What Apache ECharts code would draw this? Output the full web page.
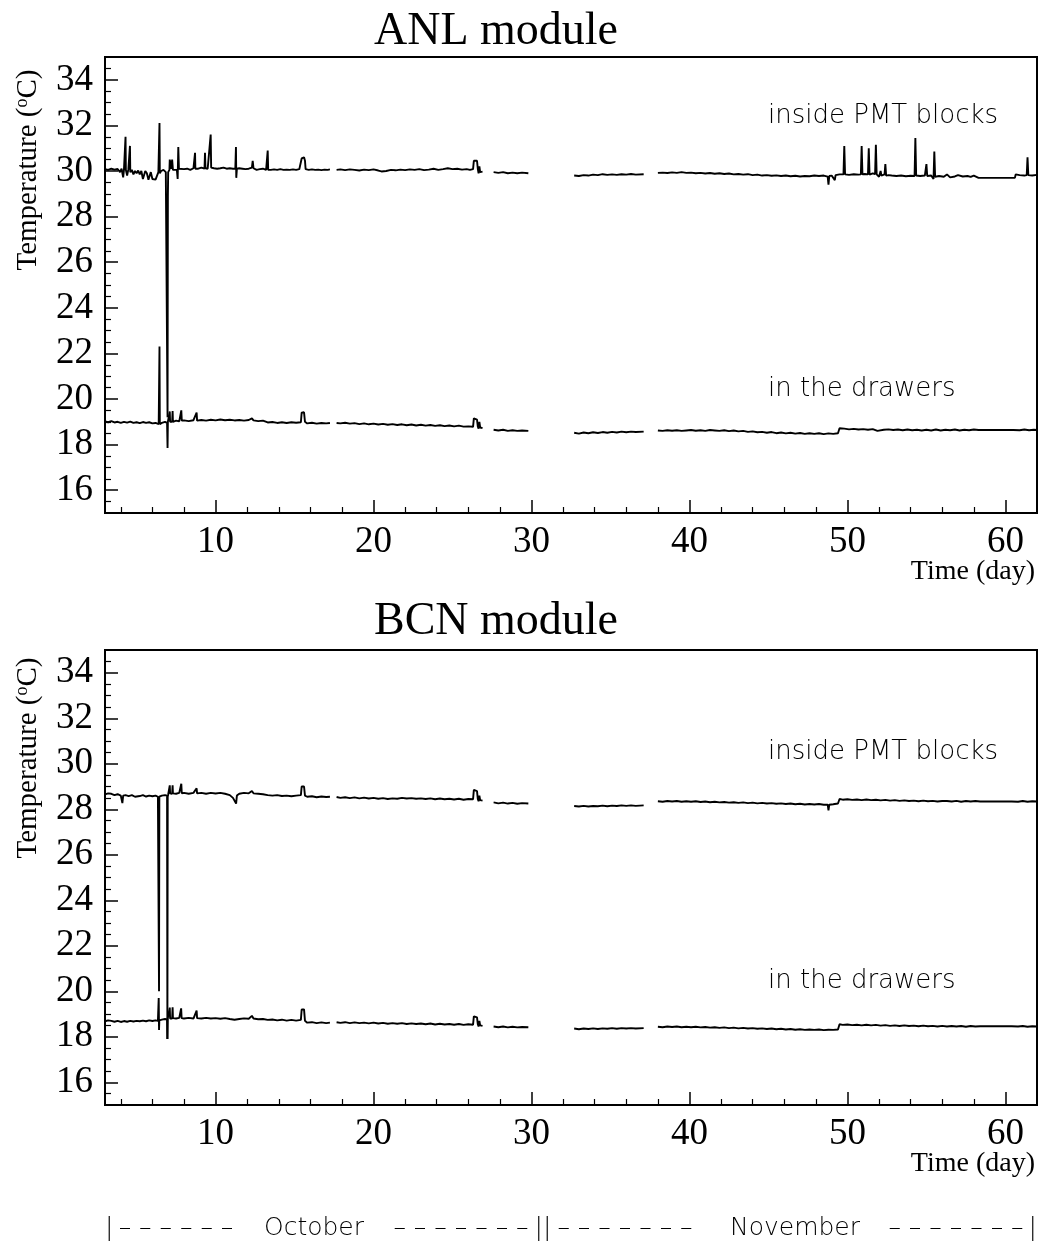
<!DOCTYPE html>
<html><head><meta charset="utf-8">
<script src="https://cdn.jsdelivr.net/npm/echarts@6/dist/echarts.min.js"></script>
<style>html,body{margin:0;padding:0;background:#fff}#c{width:1043px;height:1248px}</style>
</head><body><div id="c"></div>
<script>
const GAP = null;
const panelTitles = ['ANL module', 'BCN module'];
const seriesNames = ['inside PMT blocks', 'in the drawers'];
const xMajorTicks = [10, 20, 30, 40, 50, 60];
const xMinorTicks = [4, 6, 8, 12, 14, 16, 18, 22, 24, 26, 28, 32, 34, 36, 38, 42, 44, 46, 48, 52, 54, 56, 58];
const yMajorTicks = [16, 18, 20, 22, 24, 26, 28, 30, 32, 34];
const yMinorTicks = [15.5, 16.5, 17, 17.5, 18.5, 19, 19.5, 20.5, 21, 21.5, 22.5, 23, 23.5, 24.5, 25, 25.5, 26.5, 27, 27.5, 28.5, 29, 29.5, 30.5, 31, 31.5, 32.5, 33, 33.5, 34.5];

const anlPmt = [
[3.0,30.08],[3.2,30.05],[3.4,30.1],[3.6,30.06],[3.8,30.09],[3.95,29.95],[4.05,30.1],[4.15,29.72],[4.2,30.05],[4.28,30.1],[4.3,31.5],[4.32,30.05],[4.4,29.8],[4.48,30.08],[4.55,30.1],[4.58,31.1],[4.6,29.95],[4.7,30.05],[4.8,29.85],[4.9,30.0],[5.0,29.9],[5.1,30.02],[5.2,29.85],[5.3,30.0],[5.4,29.65],[5.5,29.7],[5.55,30.0],[5.65,29.9],[5.75,29.62],[5.85,29.7],[5.9,29.95],[6.0,29.65],[6.1,29.7],[6.2,29.62],[6.3,29.65],[6.38,29.95],[6.44,30.0],[6.45,32.1],[6.47,29.9],[6.55,30.0],[6.7,30.05],[6.85,29.95],[6.95,29.9],[6.96,19.2],[6.98,28.9],[7.0,29.95],[7.08,30.05],[7.1,30.5],[7.15,30.55],[7.2,30.1],[7.25,30.5],[7.3,30.05],[7.4,30.0],[7.55,30.05],[7.6,29.65],[7.64,31.05],[7.68,30.1],[7.8,30.15],[8.0,30.08],[8.2,30.1],[8.4,30.05],[8.6,30.12],[8.7,30.8],[8.72,30.1],[8.9,30.1],[9.1,30.15],[9.3,30.1],[9.33,30.8],[9.36,30.12],[9.5,30.1],[9.69,31.6],[9.72,30.15],[9.9,30.12],[10.1,30.1],[10.3,30.12],[10.5,30.15],[10.7,30.1],[10.9,30.12],[11.1,30.1],[11.25,30.1],[11.29,31.05],[11.31,29.7],[11.35,30.1],[11.5,30.12],[11.7,30.1],[11.9,30.08],[12.1,30.1],[12.3,30.15],[12.35,30.45],[12.4,30.12],[12.6,30.05],[12.8,30.08],[13.0,30.1],[13.2,30.05],[13.28,30.0],[13.3,30.9],[13.33,30.05],[13.5,30.05],[13.7,30.07],[13.9,30.05],[14.1,30.08],[14.3,30.05],[14.5,30.06],[14.7,30.05],[14.9,30.07],[15.1,30.05],[15.3,30.08],[15.4,30.1],[15.45,30.55],[15.5,30.62],[15.6,30.6],[15.66,30.45],[15.7,30.08],[15.9,30.05],[16.1,30.07],[16.3,30.05],[16.5,30.06],[16.7,30.04],[16.9,30.06],[17.1,30.05],[17.24,30.07],
[17.45,GAP],
[17.66,30.05],[17.9,30.07],[18.2,30.04],[18.5,30.07],[18.8,30.05],[19.1,30.02],[19.4,30.06],[19.7,30.04],[20.0,30.07],[20.3,30.02],[20.5,29.98],[20.8,30.0],[21.1,30.05],[21.4,30.03],[21.7,30.06],[22.0,30.04],[22.3,30.07],[22.6,30.05],[22.9,30.08],[23.2,30.04],[23.5,30.06],[23.8,30.1],[24.1,30.05],[24.4,30.08],[24.7,30.12],[25.0,30.08],[25.3,30.1],[25.6,30.06],[25.9,30.08],[26.1,30.05],[26.3,30.08],[26.35,30.45],[26.45,30.5],[26.55,30.45],[26.6,30.1],[26.65,29.9],[26.7,30.2],[26.75,29.95],[26.9,29.97],
[27.2,GAP],
[27.6,29.95],[27.9,29.92],[28.2,29.95],[28.5,29.9],[28.8,29.93],[29.1,29.9],[29.4,29.93],[29.8,29.9],
[31.0,GAP],
[32.7,29.8],[33.0,29.78],[33.3,29.82],[33.6,29.8],[33.9,29.84],[34.2,29.82],[34.5,29.86],[34.8,29.83],[35.1,29.85],[35.4,29.83],[35.7,29.86],[36.0,29.84],[36.3,29.87],[36.6,29.84],[37.1,29.86],
[37.5,GAP],
[38.0,29.92],[38.3,29.93],[38.6,29.91],[38.9,29.94],[39.2,29.92],[39.5,29.95],[39.8,29.92],[40.1,29.93],[40.4,29.9],[40.7,29.92],[41.0,29.89],[41.3,29.91],[41.6,29.88],[41.9,29.9],[42.2,29.87],[42.5,29.89],[42.8,29.85],[43.1,29.87],[43.4,29.84],[43.7,29.86],[44.0,29.82],[44.3,29.84],[44.6,29.8],[44.9,29.82],[45.2,29.79],[45.5,29.81],[45.8,29.78],[46.1,29.8],[46.4,29.77],[46.7,29.79],[47.0,29.76],[47.3,29.78],[47.6,29.77],[47.9,29.8],[48.2,29.78],[48.5,29.8],[48.75,29.75],[48.8,29.4],[48.85,29.78],[49.0,29.8],[49.2,29.6],[49.25,29.82],[49.5,29.85],[49.75,29.85],[49.8,31.1],[49.85,29.85],[50.1,29.83],[50.4,29.86],[50.7,29.84],[50.85,29.85],[50.9,31.1],[50.95,29.85],[51.1,29.87],[51.3,29.85],[51.35,31.0],[51.4,29.84],[51.6,29.9],[51.75,29.86],[51.8,31.15],[51.85,29.85],[52.0,29.75],[52.1,30.0],[52.15,29.8],[52.35,29.85],[52.4,30.3],[52.45,29.8],[52.6,29.82],[52.8,29.8],[53.1,29.78],[53.4,29.8],[53.7,29.77],[54.0,29.79],[54.25,29.78],[54.3,31.45],[54.35,29.8],[54.6,29.78],[54.9,29.8],[55.0,30.3],[55.05,29.78],[55.3,29.8],[55.45,29.65],[55.5,30.85],[55.55,29.75],[55.8,29.78],[56.1,29.75],[56.3,29.85],[56.5,29.72],[56.8,29.76],[57.0,29.82],[57.3,29.76],[57.6,29.78],[57.8,29.74],[58.0,29.8],[58.3,29.7],[60.6,29.7],[60.65,29.85],[60.9,29.82],[61.2,29.8],[61.35,29.82],[61.4,30.6],[61.45,29.82],[61.7,29.8],[62.0,29.83]
];

const anlDrw = [
[3.0,19.02],[3.2,18.98],[3.4,19.03],[3.6,18.97],[3.8,19.0],[4.0,18.95],[4.2,19.0],[4.4,18.96],[4.6,19.01],[4.8,18.95],[5.0,18.98],[5.2,18.94],[5.4,18.99],[5.6,18.95],[5.8,18.98],[6.0,18.93],[6.2,18.95],[6.3,18.88],[6.4,18.9],[6.44,18.95],[6.45,22.3],[6.47,18.9],[6.6,18.95],[6.8,19.0],[6.93,18.95],[6.96,17.85],[6.98,19.0],[7.05,18.97],[7.1,19.45],[7.12,19.0],[7.25,19.0],[7.28,19.47],[7.3,19.0],[7.5,19.05],[7.7,19.02],[7.83,19.5],[7.86,19.05],[8.0,19.06],[8.3,19.03],[8.6,19.07],[8.8,19.4],[8.83,19.05],[9.1,19.08],[9.4,19.05],[9.7,19.09],[10.0,19.06],[10.3,19.1],[10.6,19.07],[10.9,19.09],[11.2,19.06],[11.5,19.08],[11.8,19.05],[12.1,19.08],[12.3,19.15],[12.4,19.06],[12.7,19.03],[13.0,19.05],[13.3,18.97],[13.6,18.99],[13.9,18.95],[14.2,18.98],[14.5,18.95],[14.8,18.98],[15.1,18.96],[15.4,18.98],[15.45,19.4],[15.52,19.48],[15.6,19.42],[15.66,19.0],[15.8,18.93],[16.1,18.96],[16.4,18.92],[16.7,18.95],[17.0,18.93],[17.24,18.95],
[17.45,GAP],
[17.66,18.95],[17.9,18.93],[18.2,18.96],[18.5,18.92],[18.8,18.94],[19.1,18.9],[19.4,18.93],[19.7,18.89],[20.0,18.92],[20.3,18.88],[20.6,18.91],[20.9,18.87],[21.2,18.9],[21.5,18.86],[21.8,18.89],[22.1,18.85],[22.4,18.88],[22.7,18.84],[23.0,18.87],[23.3,18.83],[23.6,18.86],[23.9,18.82],[24.2,18.85],[24.5,18.81],[24.8,18.84],[25.1,18.8],[25.4,18.83],[25.7,18.79],[26.0,18.8],[26.3,18.78],[26.35,19.15],[26.45,19.2],[26.55,19.1],[26.6,18.8],[26.65,18.7],[26.7,19.0],[26.75,18.75],[26.9,18.72],
[27.2,GAP],
[27.6,18.65],[27.9,18.62],[28.2,18.65],[28.5,18.6],[28.8,18.63],[29.1,18.6],[29.4,18.62],[29.8,18.6],
[31.0,GAP],
[32.7,18.52],[33.0,18.48],[33.3,18.53],[33.6,18.5],[33.9,18.54],[34.2,18.51],[34.5,18.55],[34.8,18.52],[35.1,18.56],[35.4,18.53],[35.7,18.57],[36.0,18.54],[36.3,18.57],[36.6,18.55],[37.1,18.57],
[37.5,GAP],
[38.0,18.62],[38.3,18.6],[38.6,18.63],[38.9,18.61],[39.2,18.63],[39.5,18.6],[39.8,18.62],[40.1,18.64],[40.4,18.61],[40.7,18.63],[41.0,18.6],[41.3,18.64],[41.6,18.62],[41.9,18.6],[42.2,18.63],[42.5,18.59],[42.8,18.62],[43.1,18.58],[43.4,18.6],[43.7,18.56],[44.0,18.58],[44.3,18.54],[44.6,18.56],[44.9,18.52],[45.2,18.55],[45.5,18.5],[45.8,18.53],[46.1,18.49],[46.4,18.52],[46.7,18.48],[47.0,18.51],[47.3,18.47],[47.6,18.5],[47.9,18.47],[48.2,18.5],[48.5,18.46],[48.8,18.49],[49.1,18.47],[49.4,18.5],[49.5,18.72],[49.8,18.7],[50.1,18.67],[50.4,18.69],[50.7,18.66],[51.0,18.68],[51.3,18.65],[51.6,18.68],[51.9,18.6],[52.0,18.68],[52.3,18.65],[52.6,18.67],[52.9,18.64],[53.2,18.66],[53.5,18.63],[53.8,18.66],[54.1,18.63],[54.4,18.65],[54.7,18.62],[55.0,18.65],[55.3,18.62],[55.6,18.66],[55.9,18.62],[56.2,18.65],[56.5,18.63],[56.8,18.66],[57.1,18.62],[57.4,18.65],[57.7,18.63],[58.0,18.66],[58.3,18.64],[60.5,18.64],[60.6,18.67],[60.9,18.63],[61.2,18.66],[61.5,18.63],[61.8,18.65],[62.0,18.64]
];

const bcnPmt = [
[3.0,28.65],[3.2,28.7],[3.4,28.68],[3.6,28.62],[3.8,28.66],[4.0,28.6],[4.1,28.27],[4.15,28.6],[4.3,28.62],[4.5,28.58],[4.7,28.62],[4.9,28.55],[5.0,28.62],[5.2,28.58],[5.4,28.62],[5.6,28.56],[5.8,28.6],[6.0,28.57],[6.2,28.6],[6.35,28.55],[6.4,28.6],[6.42,20.0],[6.44,28.55],[6.6,28.6],[6.8,28.62],[6.93,28.6],[6.95,17.9],[6.97,28.55],[7.0,28.65],[7.1,29.05],[7.12,28.7],[7.25,28.68],[7.28,29.05],[7.3,28.7],[7.5,28.68],[7.7,28.72],[7.83,29.12],[7.86,28.7],[8.0,28.72],[8.3,28.68],[8.6,28.72],[8.8,28.92],[8.83,28.7],[9.1,28.72],[9.4,28.68],[9.7,28.72],[10.0,28.69],[10.3,28.72],[10.6,28.68],[10.9,28.62],[11.1,28.5],[11.3,28.25],[11.35,28.6],[11.5,28.68],[11.8,28.72],[12.1,28.7],[12.3,28.8],[12.4,28.7],[12.7,28.68],[13.0,28.66],[13.3,28.62],[13.6,28.6],[13.9,28.62],[14.2,28.58],[14.5,28.6],[14.8,28.57],[15.1,28.6],[15.4,28.62],[15.45,29.0],[15.52,29.08],[15.6,29.0],[15.66,28.6],[15.8,28.55],[16.1,28.57],[16.4,28.53],[16.7,28.56],[17.0,28.54],[17.24,28.55],
[17.45,GAP],
[17.66,28.54],[17.9,28.5],[18.2,28.53],[18.5,28.49],[18.8,28.52],[19.1,28.48],[19.4,28.51],[19.7,28.47],[20.0,28.5],[20.3,28.46],[20.6,28.49],[20.9,28.45],[21.2,28.48],[21.5,28.46],[21.8,28.5],[22.1,28.47],[22.4,28.49],[22.7,28.46],[23.0,28.48],[23.3,28.45],[23.6,28.48],[23.9,28.44],[24.2,28.47],[24.5,28.44],[24.8,28.46],[25.1,28.43],[25.4,28.46],[25.7,28.42],[26.0,28.45],[26.3,28.44],[26.35,28.85],[26.45,28.9],[26.55,28.8],[26.6,28.45],[26.65,28.35],[26.7,28.6],[26.75,28.4],[26.9,28.38],
[27.2,GAP],
[27.6,28.3],[27.9,28.26],[28.2,28.29],[28.5,28.25],[28.8,28.28],[29.1,28.24],[29.4,28.27],[29.8,28.25],
[31.0,GAP],
[32.7,28.14],[33.0,28.12],[33.3,28.15],[33.6,28.12],[33.9,28.14],[34.2,28.13],[34.5,28.16],[34.8,28.13],[35.1,28.16],[35.4,28.14],[35.7,28.17],[36.0,28.15],[36.3,28.17],[36.6,28.15],[37.1,28.17],
[37.5,GAP],
[38.0,28.35],[38.3,28.33],[38.6,28.36],[38.9,28.34],[39.2,28.36],[39.5,28.33],[39.8,28.35],[40.1,28.33],[40.4,28.35],[40.7,28.32],[41.0,28.34],[41.3,28.31],[41.6,28.33],[41.9,28.3],[42.2,28.32],[42.5,28.29],[42.8,28.31],[43.1,28.28],[43.4,28.3],[43.7,28.27],[44.0,28.29],[44.3,28.26],[44.6,28.28],[44.9,28.25],[45.2,28.27],[45.5,28.24],[45.8,28.26],[46.1,28.23],[46.4,28.25],[46.7,28.22],[47.0,28.24],[47.3,28.21],[47.6,28.23],[47.9,28.21],[48.2,28.23],[48.5,28.2],[48.75,28.2],[48.8,27.95],[48.85,28.2],[49.1,28.22],[49.4,28.25],[49.5,28.45],[49.7,28.42],[50.0,28.44],[50.3,28.41],[50.6,28.43],[50.9,28.4],[51.2,28.43],[51.5,28.4],[51.8,28.42],[52.1,28.39],[52.4,28.41],[52.7,28.38],[53.0,28.4],[53.3,28.37],[53.6,28.39],[53.9,28.36],[54.2,28.38],[54.5,28.35],[54.8,28.38],[55.1,28.35],[55.4,28.37],[55.7,28.34],[56.0,28.36],[56.1,28.28],[56.3,28.36],[56.6,28.34],[56.9,28.37],[57.2,28.33],[57.5,28.36],[57.8,28.34],[58.1,28.36],[58.4,28.34],[60.4,28.34],[60.5,28.36],[60.8,28.33],[61.1,28.36],[61.4,28.33],[61.7,28.35],[62.0,28.34]
];

const bcnDrw = [
[3.0,18.68],[3.2,18.72],[3.4,18.7],[3.6,18.66],[3.8,18.7],[4.0,18.65],[4.2,18.69],[4.4,18.66],[4.6,18.7],[4.8,18.67],[5.0,18.7],[5.2,18.68],[5.4,18.71],[5.6,18.68],[5.8,18.72],[6.0,18.69],[6.2,18.72],[6.35,18.7],[6.4,19.7],[6.42,18.3],[6.44,18.72],[6.6,18.75],[6.8,18.78],[6.93,18.75],[6.95,17.9],[6.97,18.8],[7.05,18.78],[7.1,19.28],[7.12,18.8],[7.25,18.8],[7.28,19.3],[7.3,18.82],[7.5,18.8],[7.7,18.83],[7.82,19.25],[7.85,18.82],[8.0,18.8],[8.3,18.83],[8.6,18.8],[8.8,19.15],[8.83,18.82],[9.1,18.8],[9.4,18.83],[9.7,18.8],[10.0,18.82],[10.3,18.79],[10.6,18.82],[10.9,18.78],[11.2,18.75],[11.3,18.7],[11.5,18.78],[11.8,18.81],[12.1,18.79],[12.3,18.92],[12.4,18.8],[12.7,18.77],[13.0,18.78],[13.3,18.74],[13.6,18.76],[13.9,18.72],[14.2,18.75],[14.5,18.71],[14.8,18.74],[15.1,18.71],[15.4,18.74],[15.45,19.2],[15.52,19.28],[15.6,19.2],[15.66,18.7],[15.8,18.62],[16.1,18.64],[16.4,18.6],[16.7,18.63],[17.0,18.6],[17.24,18.62],
[17.45,GAP],
[17.66,18.64],[17.9,18.61],[18.2,18.64],[18.5,18.6],[18.8,18.63],[19.1,18.6],[19.4,18.62],[19.7,18.59],[20.0,18.62],[20.3,18.58],[20.6,18.61],[20.9,18.57],[21.2,18.6],[21.5,18.57],[21.8,18.6],[22.1,18.56],[22.4,18.59],[22.7,18.56],[23.0,18.58],[23.3,18.55],[23.6,18.58],[23.9,18.54],[24.2,18.57],[24.5,18.54],[24.8,18.56],[25.1,18.53],[25.4,18.56],[25.7,18.52],[26.0,18.55],[26.3,18.53],[26.35,18.9],[26.45,18.95],[26.55,18.85],[26.6,18.55],[26.65,18.45],[26.7,18.7],[26.75,18.5],[26.9,18.48],
[27.2,GAP],
[27.6,18.45],[27.9,18.42],[28.2,18.45],[28.5,18.41],[28.8,18.44],[29.1,18.41],[29.4,18.43],[29.8,18.42],
[31.0,GAP],
[32.7,18.36],[33.0,18.33],[33.3,18.36],[33.6,18.34],[33.9,18.37],[34.2,18.34],[34.5,18.37],[34.8,18.35],[35.1,18.38],[35.4,18.35],[35.7,18.38],[36.0,18.36],[36.3,18.38],[36.6,18.36],[37.1,18.38],
[37.5,GAP],
[38.0,18.44],[38.3,18.42],[38.6,18.45],[38.9,18.43],[39.2,18.45],[39.5,18.42],[39.8,18.44],[40.1,18.42],[40.4,18.44],[40.7,18.41],[41.0,18.43],[41.3,18.4],[41.6,18.42],[41.9,18.39],[42.2,18.41],[42.5,18.38],[42.8,18.4],[43.1,18.37],[43.4,18.39],[43.7,18.36],[44.0,18.38],[44.3,18.35],[44.6,18.37],[44.9,18.34],[45.2,18.36],[45.5,18.33],[45.8,18.35],[46.1,18.32],[46.4,18.34],[46.7,18.31],[47.0,18.33],[47.3,18.3],[47.6,18.32],[47.9,18.3],[48.2,18.32],[48.5,18.29],[48.8,18.31],[49.1,18.3],[49.4,18.32],[49.5,18.55],[49.7,18.52],[50.0,18.54],[50.3,18.51],[50.6,18.53],[50.9,18.5],[51.2,18.53],[51.5,18.5],[51.8,18.52],[52.1,18.49],[52.4,18.51],[52.7,18.48],[53.0,18.5],[53.3,18.47],[53.6,18.5],[53.9,18.47],[54.2,18.49],[54.5,18.46],[54.8,18.49],[55.1,18.46],[55.4,18.48],[55.7,18.45],[56.0,18.48],[56.3,18.45],[56.6,18.47],[56.9,18.45],[57.2,18.47],[57.5,18.44],[57.8,18.47],[58.1,18.45],[58.4,18.46],[60.4,18.46],[60.5,18.48],[60.8,18.45],[61.1,18.47],[61.4,18.44],[61.7,18.46],[62.0,18.45]
];

const SERIF = 'Liberation Serif';
const THIN = 'DejaVu Sans';
const grids = [
  {left: 105, top: 57, width: 932, height: 456},
  {left: 105, top: 650, width: 932, height: 455}
];

function xAxes(gi) {
  return [{
    type: 'value', gridIndex: gi, min: 3, max: 62, position: 'bottom',
    axisLine: {show: true, onZero: false, lineStyle: {color: '#000', width: 2}},
    axisTick: {show: true, inside: true, length: 13, customValues: xMajorTicks, lineStyle: {color: '#000', width: 1.5}},
    axisLabel: {show: true, customValues: xMajorTicks, margin: 11, color: '#000', fontFamily: SERIF, fontSize: 37},
    splitLine: {show: false}
  }, {
    type: 'value', gridIndex: gi, min: 3, max: 62, position: 'bottom',
    axisLine: {show: false},
    axisTick: {show: true, inside: true, length: 6, customValues: xMinorTicks, lineStyle: {color: '#000', width: 1.2}},
    axisLabel: {show: false},
    splitLine: {show: false}
  }];
}
function yAxes(gi) {
  return [{
    type: 'value', gridIndex: gi, min: 15, max: 35, position: 'left',
    axisLine: {show: true, onZero: false, lineStyle: {color: '#000', width: 2}},
    axisTick: {show: true, inside: true, length: 13, customValues: yMajorTicks, lineStyle: {color: '#000', width: 1.5}},
    axisLabel: {show: true, customValues: yMajorTicks, margin: 12, color: '#000', fontFamily: SERIF, fontSize: 37},
    splitLine: {show: false}
  }, {
    type: 'value', gridIndex: gi, min: 15, max: 35, position: 'left',
    axisLine: {show: false},
    axisTick: {show: true, inside: true, length: 6, customValues: yMinorTicks, lineStyle: {color: '#000', width: 1.2}},
    axisLabel: {show: false},
    splitLine: {show: false}
  }];
}
function line(name, data, gi) {
  return {
    name: name, type: 'line', xAxisIndex: gi * 2, yAxisIndex: gi * 2, data: data,
    symbol: 'none', showSymbol: false, connectNulls: false, sampling: null,
    lineStyle: {color: '#000', width: 1.9}, z: 5
  };
}
function txt(text, x, y, font, align, extra) {
  return Object.assign({type: 'text', x: x, y: y, style: {text: text, font: font, fill: '#000', textAlign: align || 'left', textVerticalAlign: 'middle'}, silent: true}, extra || {});
}
function tempLabel(x, y) {
  return {
    type: 'text', x: x, y: y, rotation: Math.PI / 2, silent: true,
    style: {
      text: '{a|Temperature (}{s|o}{a|C)}', fill: '#000', textAlign: 'center', textVerticalAlign: 'middle',
      rich: {a: {fontFamily: SERIF, fontSize: 29, fill: '#000'}, s: {fontFamily: SERIF, fontSize: 18, fill: '#000', verticalAlign: 'top'}}
    }
  };
}
const thinFont = '200 26px "' + THIN + '"';
const monthFont = '200 25px "' + THIN + '"';
const option = {
  animation: false,
  backgroundColor: '#fff',
  grid: grids.map(g => Object.assign({show: true, borderColor: '#000', borderWidth: 2, backgroundColor: 'transparent', containLabel: false}, g)),
  xAxis: xAxes(0).concat(xAxes(1)),
  yAxis: yAxes(0).concat(yAxes(1)),
  series: [line(seriesNames[0], anlPmt, 0), line(seriesNames[1], anlDrw, 0), line(seriesNames[0], bcnPmt, 1), line(seriesNames[1], bcnDrw, 1)],
  graphic: [
    txt(panelTitles[0], 496, 32, '46px "' + SERIF + '"', 'center'),
    txt(panelTitles[1], 496, 622, '46px "' + SERIF + '"', 'center'),
    tempLabel(28, 170),
    tempLabel(28, 758),
    txt('Time (day)', 1035, 572, '28px "' + SERIF + '"', 'right'),
    txt('Time (day)', 1035, 1164, '28px "' + SERIF + '"', 'right'),
    txt(seriesNames[0], 768, 116, thinFont, 'left'),
    txt(seriesNames[1], 768, 389, thinFont, 'left'),
    txt(seriesNames[0], 768, 752, thinFont, 'left'),
    txt(seriesNames[1], 768, 981, thinFont, 'left'),
    txt('|', 105, 1228, monthFont, 'left'),
    txt('– – – – – –', 176, 1228, monthFont, 'center'),
    txt('October', 314, 1228, monthFont, 'center'),
    txt('– – – – – – –', 461, 1228, monthFont, 'center'),
    txt('||', 543, 1228, monthFont, 'center'),
    txt('– – – – – – –', 625, 1228, monthFont, 'center'),
    txt('November', 795, 1228, monthFont, 'center'),
    txt('– – – – – – –', 956, 1228, monthFont, 'center'),
    txt('|', 1037, 1228, monthFont, 'right')
  ]
};
const chart = echarts.init(document.getElementById('c'), null, {renderer: 'canvas'});
chart.setOption(option);
</script>
</body></html>
